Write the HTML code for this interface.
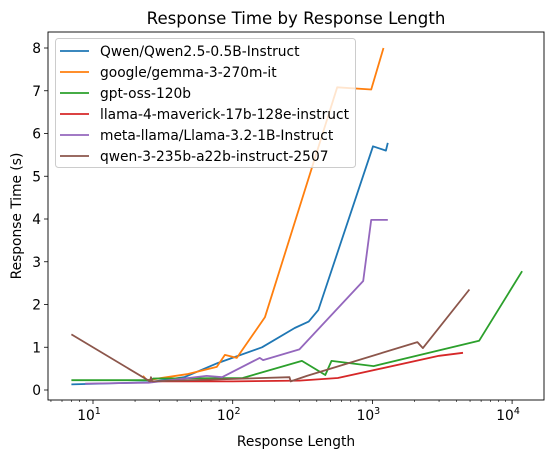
<!DOCTYPE html>
<html><head><meta charset="utf-8"><style>
body{margin:0;background:#fff;}
svg{display:block;font-family:"DejaVu Sans","Liberation Sans",sans-serif;}
</style></head><body>
<svg id="chart" width="554" height="459"></svg>
<script>
const seriesNames=["Qwen/Qwen2.5-0.5B-Instruct","google/gemma-3-270m-it","gpt-oss-120b","llama-4-maverick-17b-128e-instruct","meta-llama/Llama-3.2-1B-Instruct","qwen-3-235b-a22b-instruct-2507"];
const colors=["#1f77b4","#ff7f0e","#2ca02c","#d62728","#9467bd","#8c564b"];
const qwenX=[7,25,45,78,162,278,350,410,1010,1250,1290];
const qwenY=[0.13,0.18,0.3,0.63,1.0,1.45,1.6,1.87,5.7,5.6,5.78];
const gemmaX=[22.8,24.3,47,77,88,107,170,560,980,1200];
const gemmaY=[0.33,0.23,0.37,0.54,0.82,0.75,1.7,7.08,7.03,8.0];
const gptX=[7,26,27,118,313,460,510,1020,5800,11800];
const gptY=[0.23,0.23,0.27,0.28,0.68,0.35,0.68,0.56,1.15,2.78];
const llama4X=[25,100,300,565,3000,4450];
const llama4Y=[0.2,0.2,0.22,0.28,0.8,0.87];
const metaX=[8.8,25,65,84,156,165,300,860,980,1290];
const metaY=[0.15,0.17,0.33,0.3,0.75,0.7,0.95,2.55,3.98,3.98];
const brownX=[7,25.6,26,26.5,255,260,340,2100,2300,4950];
const brownY=[1.3,0.2,0.3,0.2,0.3,0.2,0.33,1.12,0.98,2.35];
const allX=[qwenX,gemmaX,gptX,llama4X,metaX,brownX];
const allY=[qwenY,gemmaY,gptY,llama4Y,metaY,brownY];
const yTicks=[0,1,2,3,4,5,6,7,8];
const xTicks=[1,2,3,4];
const L=48,R=544,T=32,B=400;
const FS=13.8;
function sx(v){return 93+(Math.log10(v)-1)*139.7;}
function sy(v){return 390-v*42.75;}
const svg=document.getElementById('chart');
const NS="http://www.w3.org/2000/svg";
function mk(t,a,p){const e=document.createElementNS(NS,t);for(const k in a)e.setAttribute(k,a[k]);(p||svg).appendChild(e);return e;}
let t=mk('text',{x:296,y:24,'text-anchor':'middle','font-size':16.6,fill:'#000'});t.textContent="Response Time by Response Length";


yTicks.forEach(v=>{const y=sy(v);
 const l=mk('line',{x1:L-4,x2:L,y1:y,y2:y,stroke:'#000','stroke-width':0.8});
 
 
 const tx=mk('text',{x:L-7,y:y+5,'text-anchor':'end','font-size':FS});tx.textContent=v;
 
 
});
xTicks.forEach(p=>{const x=sx(Math.pow(10,p));
 const l=mk('line',{x1:x,x2:x,y1:B,y2:B+4,stroke:'#000','stroke-width':0.8});
 
 
 const tx=mk('text',{x:x-4,y:B+20,'text-anchor':'middle','font-size':FS});
 tx.innerHTML='10<tspan dy="-6" font-size="9.5">'+p+'</tspan>';
 
 
});
for(let p=0;p<5;p++){for(let m=2;m<10;m++){const x=sx(m*Math.pow(10,p));if(x<L||x>R)continue;
 const l=mk('line',{x1:x,x2:x,y1:B,y2:B+2,stroke:'#000','stroke-width':0.6});
 
 }}
let xl=mk('text',{x:296,y:446,'text-anchor':'middle','font-size':FS});xl.textContent="Response Length";


let yl=mk('text',{x:0,y:0,'text-anchor':'middle','font-size':FS,transform:'translate(21,216) rotate(-90)'});yl.textContent="Response Time (s)";


allX.forEach((xs,i)=>{const pts=xs.map((x,j)=>sx(x).toFixed(1)+','+sy(allY[i][j]).toFixed(1)).join(' ');
 const pl=mk('polyline',{points:pts,fill:'none',stroke:colors[i],'stroke-width':1.8,'stroke-linejoin':'round'});
 
 
});
const fr=mk('rect',{x:L,y:T,width:R-L,height:B-T,fill:'none',stroke:'#000','stroke-width':0.9});


const lg=mk('g',{});


mk('rect',{x:55.5,y:38.5,width:300,height:129,rx:3,fill:'#fff','fill-opacity':0.8,stroke:'#ccc'},lg);
seriesNames.forEach((n,i)=>{const y=51+i*21;
 const g=mk('g',{},lg);
 
 
 mk('line',{x1:60,x2:89,y1:y,y2:y,stroke:colors[i],'stroke-width':1.8},g);
 const tx=mk('text',{x:100,y:y+5,'font-size':FS},g);tx.textContent=n;
});
</script>
</body></html>
